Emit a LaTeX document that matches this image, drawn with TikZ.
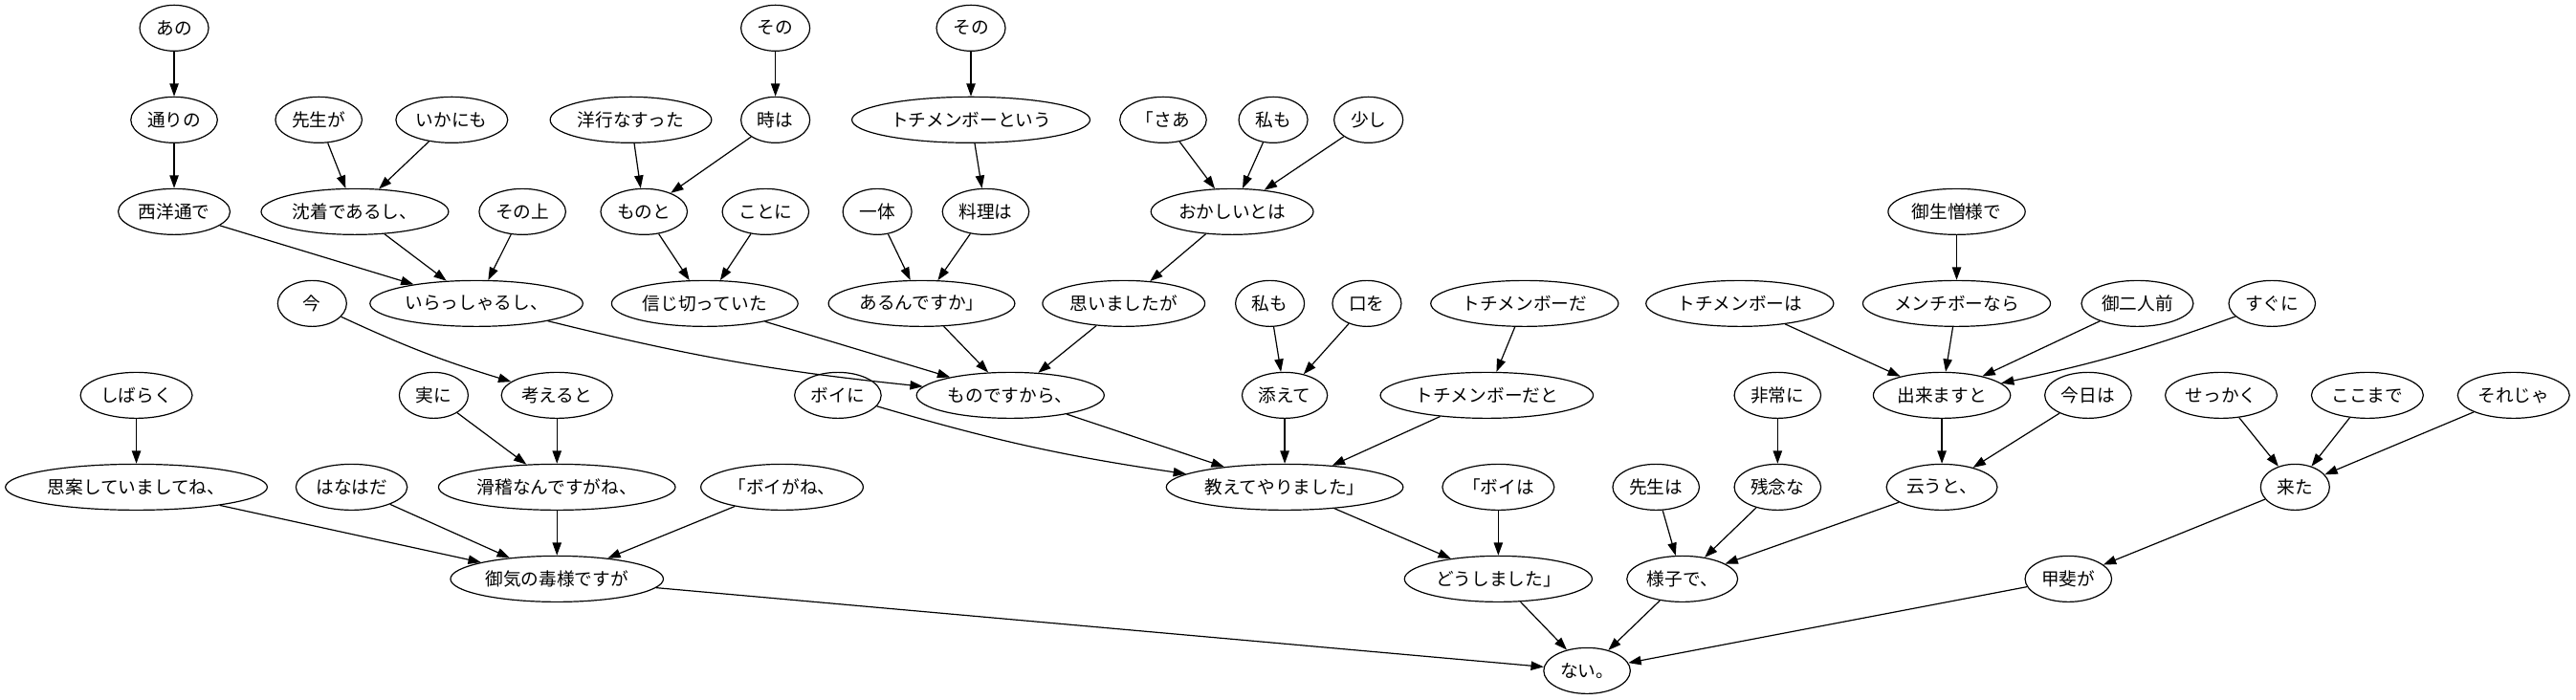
\documentclass[tikz,border=0pt]{standalone}
\usepackage{fontspec}
\setmainfont{Noto Sans CJK JP}
\usetikzlibrary{shapes,arrows.meta,positioning}

\tikzset{
  word/.style={draw, ellipse, line width=0.9pt, minimum width=54pt, minimum height=36pt,
    inner xsep=3pt, inner ysep=2pt, font=\fontsize{14pt}{16pt}\selectfont},
  dep/.style={line width=0.9pt, -{Triangle[length=10pt,width=7pt]}}
}

\begin{document}
\begin{tikzpicture}[x=1.288pt, y=-72pt]
  \useasboundingbox (0,-0.3056) rectangle (1568,7.309);
  % rank 0
  \node[word] (ano)   at (106,0) {あの};
  \node[word] (sonoA) at (472,0) {その};
  \node[word] (sonoB) at (591,0) {その};
  % rank 1
  \node[word] (torino)   at (106,1) {通りの};
  \node[word] (senseiga) at (194,1) {先生が};
  \node[word] (ikanimo)  at (275,1) {いかにも};
  \node[word] (yoko)     at (384,1) {洋行なすった};
  \node[word] (tokiwa)   at (472,1) {時は};
  \node[word] (tochiiu)  at (591,1) {トチメンボーという};
  \node[word] (saa)      at (708,1) {「さあ};
  \node[word] (watashiA) at (775,1) {私も};
  \node[word] (sukoshi)  at (833,1) {少し};
  % rank 2
  \node[word] (seiyo)     at (106,2) {西洋通で};
  \node[word] (chinchaku) at (216,2) {沈着であるし、};
  \node[word] (sonoue)    at (318,2) {その上};
  \node[word] (monoto)    at (392,2) {ものと};
  \node[word] (kotoni)    at (466,2) {ことに};
  \node[word] (ittai)     at (534,2) {一体};
  \node[word] (ryoriwa)   at (600,2) {料理は};
  \node[word] (okashii)   at (750,2) {おかしいとは};
  \node[word] (ainiku)    at (1191,2) {御生憎様で};
  % rank 3
  \node[word] (ima)       at (190,3) {今};
  \node[word] (irassharu) at (290,3) {いらっしゃるし、};
  \node[word] (shinji)    at (429,3) {信じ切っていた};
  \node[word] (arun)      at (561,3) {あるんですか」};
  \node[word] (omoi)      at (684,3) {思いましたが};
  \node[word] (watashiB)  at (773,3) {私も};
  \node[word] (kuchi)     at (832,3) {口を};
  \node[word] (tochida)   at (928,3) {トチメンボーだ};
  \node[word] (tochiwa)   at (1059,3) {トチメンボーは};
  \node[word] (menchi)    at (1191,3) {メンチボーなら};
  \node[word] (futari)    at (1301,3) {御二人前};
  \node[word] (suguni)    at (1383,3) {すぐに};
  % rank 4
  \node[word] (shibaraku) at (83,4) {しばらく};
  \node[word] (jitsuni)   at (264,4) {実に};
  \node[word] (kangaeru)  at (339,4) {考えると};
  \node[word] (boini)     at (510,4) {ボイに};
  \node[word] (monodesu)  at (615,4) {ものですから、};
  \node[word] (soete)     at (782,4) {添えて};
  \node[word] (tochidato) at (905,4) {トチメンボーだと};
  \node[word] (hijoni)    at (1082,4) {非常に};
  \node[word] (dekimasu)  at (1182,4) {出来ますと};
  \node[word] (kyowa)     at (1271,4) {今日は};
  \node[word] (sekkaku)   at (1352,4) {せっかく};
  \node[word] (kokomade)  at (1441,4) {ここまで};
  \node[word] (soreja)    at (1530,4) {それじゃ};
  % rank 5
  \node[word] (shian)    at (83,5) {思案していましてね、};
  \node[word] (hanahada) at (214,5) {はなはだ};
  \node[word] (kokkei)   at (339,5) {滑稽なんですがね、};
  \node[word] (boigane)  at (476,5) {「ボイがね、};
  \node[word] (oshiete)  at (782,5) {教えてやりました」};
  \node[word] (boiwa)    at (912,5) {「ボイは};
  \node[word] (senseiwa) at (1008,5) {先生は};
  \node[word] (zannen)   at (1082,5) {残念な};
  \node[word] (iuto)     at (1182,5) {云うと、};
  \node[word] (kita)     at (1397,5) {来た};
  % rank 6
  \node[word] (kinodoku) at (339,6) {御気の毒様ですが};
  \node[word] (doshita)  at (912,6) {どうしました」};
  \node[word] (yosude)   at (1024,6) {様子で、};
  \node[word] (kaiga)    at (1259,6) {甲斐が};
  % rank 7
  \node[word] (nai) at (966,7) {ない。};

  % left branch
  \draw[dep] (ano) -- (torino);
  \draw[dep] (torino) -- (seiyo);
  \draw[dep] (seiyo) -- (irassharu);
  \draw[dep] (senseiga) -- (chinchaku);
  \draw[dep] (ikanimo) -- (chinchaku);
  \draw[dep] (chinchaku) -- (irassharu);
  \draw[dep] (sonoue) -- (irassharu);
  \draw[dep] (irassharu) to[bend right=4] (monodesu);
  \draw[dep] (sonoA) -- (tokiwa);
  \draw[dep] (tokiwa) -- (monoto);
  \draw[dep] (yoko) -- (monoto);
  \draw[dep] (monoto) -- (shinji);
  \draw[dep] (kotoni) -- (shinji);
  \draw[dep] (shinji) -- (monodesu);
  \draw[dep] (sonoB) -- (tochiiu);
  \draw[dep] (tochiiu) -- (ryoriwa);
  \draw[dep] (ryoriwa) -- (arun);
  \draw[dep] (ittai) -- (arun);
  \draw[dep] (arun) -- (monodesu);
  \draw[dep] (saa) -- (okashii);
  \draw[dep] (watashiA) -- (okashii);
  \draw[dep] (sukoshi) -- (okashii);
  \draw[dep] (okashii) -- (omoi);
  \draw[dep] (omoi) -- (monodesu);
  \draw[dep] (ima) to[bend right=4] (kangaeru);
  \draw[dep] (kangaeru) -- (kokkei);
  \draw[dep] (jitsuni) -- (kokkei);
  \draw[dep] (shibaraku) -- (shian);
  \draw[dep] (shian) -- (kinodoku);
  \draw[dep] (hanahada) -- (kinodoku);
  \draw[dep] (kokkei) -- (kinodoku);
  \draw[dep] (boigane) -- (kinodoku);
  \draw[dep] (kinodoku) -- (nai);
  % middle branch
  \draw[dep] (monodesu) -- (oshiete);
  \draw[dep] (boini) to[bend right=4] (oshiete);
  \draw[dep] (watashiB) -- (soete);
  \draw[dep] (kuchi) -- (soete);
  \draw[dep] (soete) -- (oshiete);
  \draw[dep] (tochida) -- (tochidato);
  \draw[dep] (tochidato) -- (oshiete);
  \draw[dep] (oshiete) -- (doshita);
  \draw[dep] (boiwa) -- (doshita);
  \draw[dep] (doshita) -- (nai);
  % right branch
  \draw[dep] (ainiku) -- (menchi);
  \draw[dep] (menchi) -- (dekimasu);
  \draw[dep] (tochiwa) -- (dekimasu);
  \draw[dep] (futari) -- (dekimasu);
  \draw[dep] (suguni) to[bend left=4] (dekimasu);
  \draw[dep] (dekimasu) -- (iuto);
  \draw[dep] (kyowa) -- (iuto);
  \draw[dep] (iuto) -- (yosude);
  \draw[dep] (senseiwa) -- (yosude);
  \draw[dep] (hijoni) -- (zannen);
  \draw[dep] (zannen) -- (yosude);
  \draw[dep] (yosude) -- (nai);
  \draw[dep] (sekkaku) -- (kita);
  \draw[dep] (kokomade) -- (kita);
  \draw[dep] (soreja) -- (kita);
  \draw[dep] (kita) -- (kaiga);
  \draw[dep] (kaiga) -- (nai);
\end{tikzpicture}
\end{document}
